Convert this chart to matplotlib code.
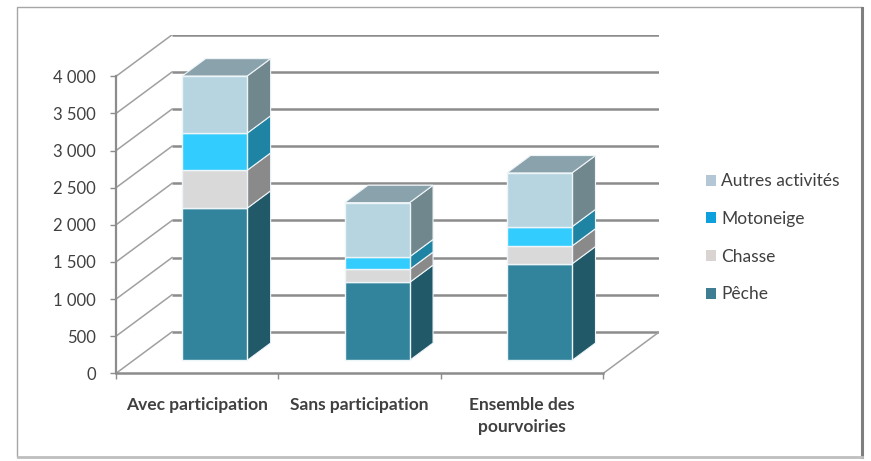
import matplotlib
matplotlib.use('Agg')
import matplotlib.pyplot as plt
from matplotlib.patches import Polygon, Patch, Rectangle
from matplotlib.lines import Line2D
import numpy as np

plt.rcParams['font.family'] = ['Lato', 'DejaVu Sans']

# --- données ---
categories = ['Avec participation', 'Sans participation', 'Ensemble des\npourvoiries']
series = ['Pêche', 'Chasse', 'Motoneige', 'Autres activités']
peche = [2050, 1050, 1300]
chasse = [510, 175, 240]
motoneige = [500, 170, 260]
autres = [770, 730, 725]
valeurs = [peche, chasse, motoneige, autres]
yticks = list(range(0, 4001, 500))

# couleurs : face avant, face latérale, pastille de légende
front_cols = ['#31849B', '#D9D9D9', '#33CCFF', '#B7D5E0']
side_cols = ['#215968', '#8A8A8A', '#1F84A3', '#71878E']
legend_cols = ['#3E7D92', '#D9D3D1', '#0DA0DC', '#B4C7D7']
top_col = '#8AA2AB'

# géométrie de la fausse 3D (profondeur oblique)
DX, DY = 0.345, 559      # décalage de la paroi du fond (unités catégorie / valeur)
d0, d1 = 0.31, 0.73      # profondeur avant / arrière des barres
w = 0.40
ymax = yticks[-1]

fig = plt.figure(figsize=(8.71, 4.61), dpi=100)
ax = fig.add_axes([0.1332, 0.1902, 0.6238, 0.7343])
n = len(categories)
ax.set_xlim(0, n + DX)
ax.set_ylim(0, ymax + DY)

grid_col = '#8C8C8C'
wall_col = '#A0A0A0'

# paroi du fond + paroi gauche
for v in yticks:
    ax.plot([DX, n + DX], [v + DY, v + DY], color=grid_col, lw=1.8, zorder=1,
            solid_capstyle='butt')
    ax.plot([0, DX], [v, v + DY], color=wall_col, lw=1.1, zorder=1)
# plancher
ax.plot([n, n + DX], [0, DY], color=wall_col, lw=1.1, zorder=1)

# barres empilées
x = np.arange(n) + 0.5
cum = np.zeros(n)
for k, vals in enumerate(valeurs):
    vals = np.array(vals, dtype=float)
    ax.bar(x + d0 * DX, vals, bottom=cum + d0 * DY, width=w,
           color=front_cols[k], edgecolor='#EEF5F8', lw=1.0, zorder=4)
    for i in range(n):
        xr = x[i] + w / 2 + d0 * DX
        dd = d1 - d0
        b, t = cum[i], cum[i] + vals[i]
        side = [(xr, b + d0 * DY), (xr + dd * DX, b + d1 * DY),
                (xr + dd * DX, t + d1 * DY), (xr, t + d0 * DY)]
        ax.add_patch(Polygon(side, closed=True, facecolor=side_cols[k],
                             edgecolor='#EEF5F8', lw=0.8, zorder=3))
    cum += vals

# face supérieure
for i in range(n):
    xl = x[i] - w / 2 + d0 * DX
    xr = x[i] + w / 2 + d0 * DX
    dd = d1 - d0
    T = cum[i]
    top = [(xl, T + d0 * DY), (xr, T + d0 * DY),
           (xr + dd * DX, T + d1 * DY), (xl + dd * DX, T + d1 * DY)]
    ax.add_patch(Polygon(top, closed=True, facecolor=top_col,
                         edgecolor='#EEF5F8', lw=0.8, zorder=3))

# axes
for s in ['top', 'right']:
    ax.spines[s].set_visible(False)
ax.spines['left'].set_bounds(0, ymax)
ax.spines['bottom'].set_bounds(0, n)
ax.spines['left'].set_color(grid_col)
ax.spines['bottom'].set_color(grid_col)
ax.spines['left'].set_linewidth(1.6)
ax.spines['bottom'].set_linewidth(1.8)

ax.set_yticks(yticks)
ax.set_yticklabels([f"{v:,}".replace(',', ' ') for v in yticks])
ax.tick_params(axis='y', length=4.5, width=1, color=grid_col, pad=10,
               labelsize=12, labelcolor='#404040')
ax.set_xticks(x)
ax.set_xticklabels(categories, fontweight='bold', linespacing=1.45)
ax.set_xticks(np.arange(n + 1), minor=True)
ax.tick_params(axis='x', which='major', length=0, pad=17, labelsize=12.5,
               labelcolor='#404040')
ax.tick_params(axis='x', which='minor', length=4, width=1, color=grid_col)

# légende
handles = [Patch(facecolor=legend_cols[k], edgecolor='none', label=series[k])
           for k in range(len(series) - 1, -1, -1)]
fig.legend(handles=handles, loc='center left', bbox_to_anchor=(0.8106, 0.484),
           frameon=False, fontsize=12.5, handlelength=0.58, handleheight=0.58,
           handletextpad=0.3, labelspacing=1.25, borderpad=0, borderaxespad=0,
           labelcolor='#404040')

# cadre du graphique
fig.patches.append(Rectangle((17 / 871, 1 - 457 / 461), 845 / 871, 450 / 461,
                             transform=fig.transFigure, fill=False,
                             edgecolor='#A6A6A6', lw=1.0, zorder=0))
fig.add_artist(Line2D([862 / 871, 862 / 871], [1 - 457 / 461, 1 - 8 / 461],
                      transform=fig.transFigure, color='#7F7F7F', lw=2.2))
fig.add_artist(Line2D([18 / 871, 862 / 871], [1 - 457 / 461, 1 - 457 / 461],
                      transform=fig.transFigure, color='#BFBFBF', lw=2.0))

fig.savefig('out.png', dpi=100)
